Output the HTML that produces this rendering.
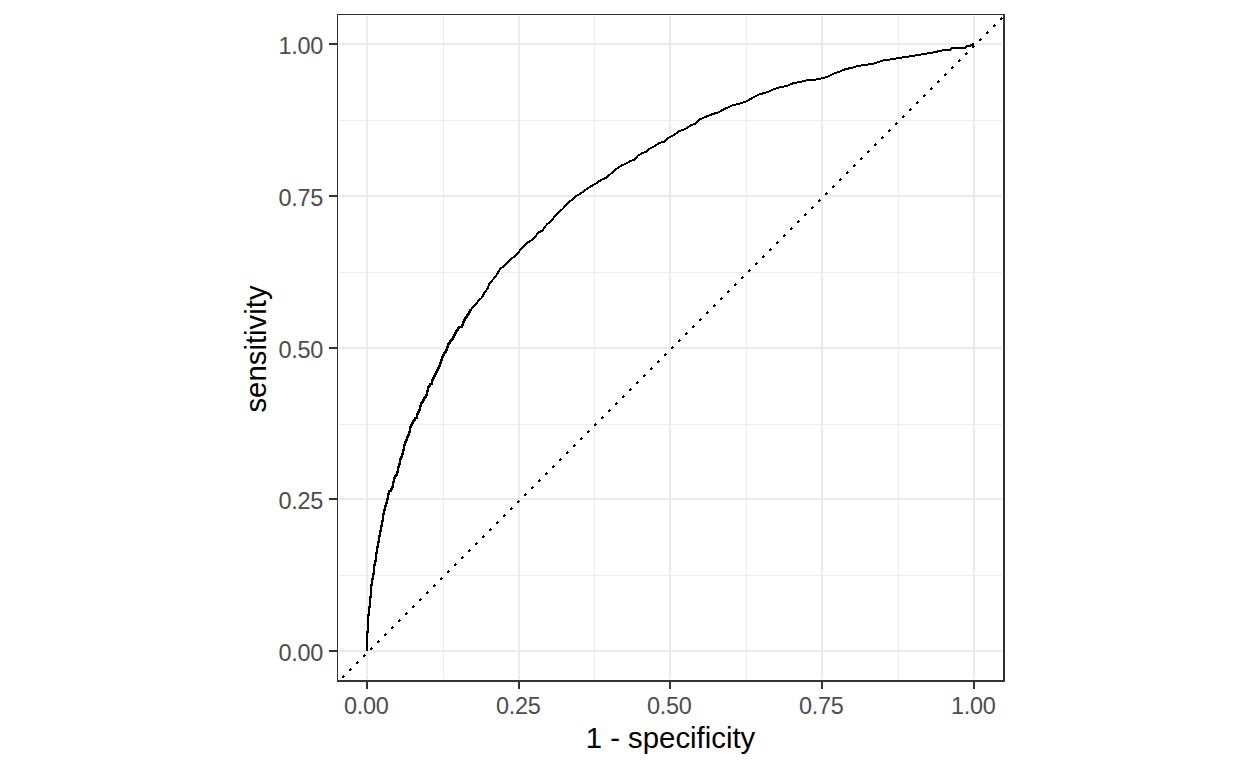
<!DOCTYPE html>
<html><head><meta charset="utf-8"><title>ROC curve</title><style>
html,body{margin:0;padding:0;background:#fff;overflow:hidden;}svg{display:block;}
text{font-family:"Liberation Sans",Arial,sans-serif;}
</style></head><body>
<svg width="1248" height="768" viewBox="0 0 1248 768">
<rect width="1248" height="768" fill="#fff"/>
<g fill="#EBEBEB" shape-rendering="crispEdges"><rect x="443" y="16" width="1" height="663"/><rect x="594" y="16" width="1" height="663"/><rect x="746" y="16" width="1" height="663"/><rect x="898" y="16" width="1" height="663"/><rect x="339" y="120" width="663" height="1"/><rect x="339" y="272" width="663" height="1"/><rect x="339" y="424" width="663" height="1"/><rect x="339" y="575" width="663" height="1"/><rect x="366" y="16" width="2" height="663"/><rect x="518" y="16" width="2" height="663"/><rect x="669" y="16" width="2" height="663"/><rect x="821" y="16" width="2" height="663"/><rect x="973" y="16" width="2" height="663"/><rect x="339" y="43" width="663" height="2"/><rect x="339" y="195" width="663" height="2"/><rect x="339" y="347" width="663" height="2"/><rect x="339" y="498" width="663" height="2"/><rect x="339" y="650" width="663" height="2"/></g>
<path fill="#000" shape-rendering="crispEdges" d="M342 676h2v2h-2zM343 675h1v1h-1zM344 676h1v1h-1zM349 669h2v2h-2zM350 668h1v1h-1zM351 669h1v1h-1zM356 662h2v2h-2zM357 661h1v1h-1zM358 662h1v1h-1zM363 655h2v2h-2zM364 654h1v1h-1zM365 655h1v1h-1zM370 648h2v2h-2zM371 647h1v1h-1zM372 648h1v1h-1zM377 641h2v2h-2zM378 640h1v1h-1zM379 641h1v1h-1zM384 634h2v2h-2zM385 633h1v1h-1zM386 634h1v1h-1zM391 627h2v2h-2zM392 626h1v1h-1zM393 627h1v1h-1zM398 620h2v2h-2zM399 619h1v1h-1zM400 620h1v1h-1zM405 613h2v2h-2zM406 612h1v1h-1zM407 613h1v1h-1zM412 606h2v2h-2zM413 605h1v1h-1zM414 606h1v1h-1zM419 599h2v2h-2zM420 598h1v1h-1zM421 599h1v1h-1zM426 592h2v2h-2zM427 591h1v1h-1zM428 592h1v1h-1zM433 585h2v2h-2zM434 584h1v1h-1zM435 585h1v1h-1zM440 578h2v2h-2zM441 577h1v1h-1zM442 578h1v1h-1zM447 571h2v2h-2zM448 570h1v1h-1zM449 571h1v1h-1zM454 564h2v2h-2zM455 563h1v1h-1zM456 564h1v1h-1zM461 557h2v2h-2zM462 556h1v1h-1zM463 557h1v1h-1zM468 550h2v2h-2zM469 549h1v1h-1zM470 550h1v1h-1zM475 543h2v2h-2zM476 542h1v1h-1zM477 543h1v1h-1zM482 536h2v2h-2zM483 535h1v1h-1zM484 536h1v1h-1zM489 529h2v2h-2zM490 528h1v1h-1zM491 529h1v1h-1zM496 522h2v2h-2zM497 521h1v1h-1zM498 522h1v1h-1zM503 515h2v2h-2zM504 514h1v1h-1zM505 515h1v1h-1zM510 508h2v2h-2zM511 507h1v1h-1zM512 508h1v1h-1zM517 501h2v2h-2zM518 500h1v1h-1zM519 501h1v1h-1zM524 494h2v2h-2zM525 493h1v1h-1zM526 494h1v1h-1zM531 487h2v2h-2zM532 486h1v1h-1zM533 487h1v1h-1zM538 480h2v2h-2zM539 479h1v1h-1zM540 480h1v1h-1zM545 473h2v2h-2zM546 472h1v1h-1zM547 473h1v1h-1zM552 466h2v2h-2zM553 465h1v1h-1zM554 466h1v1h-1zM559 459h2v2h-2zM560 458h1v1h-1zM561 459h1v1h-1zM566 452h2v2h-2zM567 451h1v1h-1zM568 452h1v1h-1zM573 445h2v2h-2zM574 444h1v1h-1zM575 445h1v1h-1zM580 438h2v2h-2zM581 437h1v1h-1zM582 438h1v1h-1zM587 431h2v2h-2zM588 430h1v1h-1zM589 431h1v1h-1zM594 424h2v2h-2zM595 423h1v1h-1zM596 424h1v1h-1zM601 417h2v2h-2zM602 416h1v1h-1zM603 417h1v1h-1zM608 410h2v2h-2zM609 409h1v1h-1zM610 410h1v1h-1zM615 403h2v2h-2zM616 402h1v1h-1zM617 403h1v1h-1zM622 396h2v2h-2zM623 395h1v1h-1zM624 396h1v1h-1zM629 389h2v2h-2zM630 388h1v1h-1zM631 389h1v1h-1zM636 382h2v2h-2zM637 381h1v1h-1zM638 382h1v1h-1zM643 375h2v2h-2zM644 374h1v1h-1zM645 375h1v1h-1zM650 368h2v2h-2zM651 367h1v1h-1zM652 368h1v1h-1zM657 361h2v2h-2zM658 360h1v1h-1zM659 361h1v1h-1zM664 354h2v2h-2zM665 353h1v1h-1zM666 354h1v1h-1zM671 347h2v2h-2zM672 346h1v1h-1zM673 347h1v1h-1zM678 340h2v2h-2zM679 339h1v1h-1zM680 340h1v1h-1zM685 333h2v2h-2zM686 332h1v1h-1zM687 333h1v1h-1zM692 326h2v2h-2zM693 325h1v1h-1zM694 326h1v1h-1zM699 319h2v2h-2zM700 318h1v1h-1zM701 319h1v1h-1zM706 312h2v2h-2zM707 311h1v1h-1zM708 312h1v1h-1zM713 305h2v2h-2zM714 304h1v1h-1zM715 305h1v1h-1zM720 298h2v2h-2zM721 297h1v1h-1zM722 298h1v1h-1zM727 291h2v2h-2zM728 290h1v1h-1zM729 291h1v1h-1zM734 284h2v2h-2zM735 283h1v1h-1zM736 284h1v1h-1zM741 277h2v2h-2zM742 276h1v1h-1zM743 277h1v1h-1zM748 270h2v2h-2zM749 269h1v1h-1zM750 270h1v1h-1zM755 263h2v2h-2zM756 262h1v1h-1zM757 263h1v1h-1zM762 256h2v2h-2zM763 255h1v1h-1zM764 256h1v1h-1zM769 249h2v2h-2zM770 248h1v1h-1zM771 249h1v1h-1zM776 242h2v2h-2zM777 241h1v1h-1zM778 242h1v1h-1zM783 235h2v2h-2zM784 234h1v1h-1zM785 235h1v1h-1zM790 228h2v2h-2zM791 227h1v1h-1zM792 228h1v1h-1zM797 221h2v2h-2zM798 220h1v1h-1zM799 221h1v1h-1zM804 214h2v2h-2zM805 213h1v1h-1zM806 214h1v1h-1zM811 207h2v2h-2zM812 206h1v1h-1zM813 207h1v1h-1zM818 200h2v2h-2zM819 199h1v1h-1zM820 200h1v1h-1zM825 193h2v2h-2zM826 192h1v1h-1zM827 193h1v1h-1zM832 186h2v2h-2zM833 185h1v1h-1zM834 186h1v1h-1zM839 179h2v2h-2zM840 178h1v1h-1zM841 179h1v1h-1zM846 172h2v2h-2zM847 171h1v1h-1zM848 172h1v1h-1zM853 165h2v2h-2zM854 164h1v1h-1zM855 165h1v1h-1zM860 158h2v2h-2zM861 157h1v1h-1zM862 158h1v1h-1zM867 151h2v2h-2zM868 150h1v1h-1zM869 151h1v1h-1zM874 144h2v2h-2zM875 143h1v1h-1zM876 144h1v1h-1zM881 137h2v2h-2zM882 136h1v1h-1zM883 137h1v1h-1zM888 130h2v2h-2zM889 129h1v1h-1zM890 130h1v1h-1zM895 123h2v2h-2zM896 122h1v1h-1zM897 123h1v1h-1zM902 116h2v2h-2zM903 115h1v1h-1zM904 116h1v1h-1zM909 109h2v2h-2zM910 108h1v1h-1zM911 109h1v1h-1zM916 102h2v2h-2zM917 101h1v1h-1zM918 102h1v1h-1zM923 95h2v2h-2zM924 94h1v1h-1zM925 95h1v1h-1zM930 88h2v2h-2zM931 87h1v1h-1zM932 88h1v1h-1zM937 81h2v2h-2zM938 80h1v1h-1zM939 81h1v1h-1zM944 74h2v2h-2zM945 73h1v1h-1zM946 74h1v1h-1zM951 67h2v2h-2zM952 66h1v1h-1zM953 67h1v1h-1zM958 60h2v2h-2zM959 59h1v1h-1zM960 60h1v1h-1zM965 53h2v2h-2zM966 52h1v1h-1zM967 53h1v1h-1zM972 46h2v2h-2zM973 45h1v1h-1zM974 46h1v1h-1zM979 39h2v2h-2zM980 38h1v1h-1zM981 39h1v1h-1zM986 32h2v2h-2zM987 31h1v1h-1zM988 32h1v1h-1zM993 25h2v2h-2zM994 24h1v1h-1zM995 25h1v1h-1zM1000 18h2v2h-2zM1001 17h1v1h-1zM1002 18h1v1h-1z"/>
<polyline fill="none" stroke="#000" stroke-width="2" stroke-linejoin="miter" shape-rendering="crispEdges" points="367,651 367,631.5 368,631.5 368,615.4 369,615.4 369,607.4 370,607.4 370,597.2 371,597.2 371,585.3 372,585.3 372,579 373,579 373,573.6 374,573.6 374,565 375,565 375,560.7 376,560.7 376,553.3 377,553.3 377,546.6 378,546.6 378,542.4 379,542.4 379,536.2 380,536.2 380,531.1 381,531.1 381,526.1 382,526.1 382,521.4 383,521.4 383,514.2 384,514.2 384,510 385,510 385,506.2 386,506.2 386,502.8 387,502.8 387,498.6 388,498.6 388,493.5 389,493.5 389,491.2 391,491.2 391,488.7 392,488.7 392,487 393,487 393,482.4 394,482.4 394,478.25 395,478.25 395,476.2 396,476.2 396,474.5 397,474.5 397,471.6 398,471.6 398,466.6 399,466.6 399,463.7 400,463.7 400,459.2 401,459.2 401,457.3 402,457.3 402,454.2 403,454.2 403,450.4 404,450.4 404,445.4 405,445.4 405,442.3 406,442.3 406,440.2 407,440.2 407,437.3 408,437.3 408,435.2 409,435.2 409,432.3 410,432.3 410,426.75 411,426.75 411,424.7 412,424.7 412,423 413,423 413,421.3 414,421.3 414,419.7 415,419.7 415,418.4 417,418.4 417,414 418,414 418,412.2 419,412.2 419,410.1 420,410.1 420,406.1 421,406.1 421,403.4 422,403.4 422,402.2 423,402.2 423,399.7 424,399.7 424,398.4 425,398.4 425,396.8 426,396.8 426,395.2 427,395.2 427,391 428,391 428,387.4 429,387.4 429,386 430,386 430,383.9 432,383.9 432,380.2 433,380.2 433,378 434,378 434,376 435,376 435,373.9 436,373.9 436,372 437,372 437,370 438,370 438,368 439,368 439,366 440,366 440,363.3 441,363.3 441,360 442,360 442,357 443,357 443,355.2 444,355.2 444,352.9 445,352.9 445,351.5 446,351.5 446,349.6 447,349.6 447,347 448,347 448,344.2 449,344.2 449,343.1 450,343.1 450,341.25 451,341.25 451,340 452,340 452,338.75 453,338.75 453,336.7 454,336.7 454,334.6 455,334.6 455,332.5 456,332.5 456,331 457,331 457,329.6 458,329.6 458,327.9 459,327.9 459,326.5 462,326.5 462,325.4 463,325.4 463,321.7 464,321.7 464,320 465,320 465,318.3 466,318.3 466,316.7 467,316.7 467,315.4 468,315.4 468,313.75 469,313.75 469,312 470,312 470,310.4 471,310.4 471,309.5 474.7,305.6 478.8,300.3 481.7,297.9 484.1,293.3 487.6,288.6 489.3,283.9 492.3,280.4 495.2,276.9 497.5,273.3 499.9,269.2 502.8,266.9 506.3,263.4 510.4,259.3 514.5,256.3 518,252.8 521,249.3 523.9,245.8 527.4,242.6 532.1,239.9 535.6,236.4 538.6,232.3 542.7,230.6 545,226.5 547.9,223.5 550.9,221.2 554.9,216.2 559.1,212.1 563.2,208.4 566.9,203.7 572.1,199.6 576.3,195.9 580.4,193.8 585.6,189.7 590.8,186.5 596,183.4 601.3,179.8 605.4,178.2 611.7,173 615.8,169.35 621,165.7 625.2,164.1 630.4,161 634.6,159.5 637.7,155.8 642.9,152.7 645.8,152.1 649.6,148.8 654.4,146.4 659.2,143 663.6,142 668.8,137.7 673.7,135.3 679.4,131 685.2,129.1 691,125.2 694.8,123.8 698.7,119.9 705.4,117 712.1,114.2 718.8,112.2 724.6,108.9 732.3,105.5 740,103.6 746.7,101.2 753.5,97.3 759.2,94.4 767.5,92.2 773.3,89.35 779,87.4 786.7,86 793.5,83.1 801.2,81.7 806.9,80.2 814.6,79.7 822.3,78.3 828.1,76.4 833.8,73.5 839.6,71.6 845.4,69.2 852.1,67.7 858.8,65.8 866.5,64.8 874.2,63.4 883.4,60.4 891.1,59.4 898.8,58 908.4,56.6 918,55.1 925.7,53.7 935.3,52.2 940.1,50.6 950,50 952,48 965,48 966,47 967,46 970,46 971,45 972,45 973,44 973,43"/>
<g fill="#333333" shape-rendering="crispEdges"><rect x="337" y="14" width="1" height="668"/><rect x="337" y="14" width="668" height="1"/><rect x="1003" y="14" width="2" height="668"/><rect x="337" y="680" width="668" height="2"/></g>
<g fill="#333333" shape-rendering="crispEdges"><rect x="329" y="43" width="8" height="2"/><rect x="329" y="195" width="8" height="2"/><rect x="329" y="347" width="8" height="2"/><rect x="329" y="498" width="8" height="2"/><rect x="329" y="650" width="8" height="2"/><rect x="366" y="682" width="2" height="7"/><rect x="518" y="682" width="2" height="7"/><rect x="669" y="682" width="2" height="7"/><rect x="821" y="682" width="2" height="7"/><rect x="973" y="682" width="2" height="7"/></g>
<text x="323" y="54.3" font-size="23.47" fill="#4D4D4D" letter-spacing="-0.3" text-anchor="end">1.00</text>
<text x="323" y="206.3" font-size="23.47" fill="#4D4D4D" letter-spacing="-0.3" text-anchor="end">0.75</text>
<text x="323" y="358.3" font-size="23.47" fill="#4D4D4D" letter-spacing="-0.3" text-anchor="end">0.50</text>
<text x="323" y="509.3" font-size="23.47" fill="#4D4D4D" letter-spacing="-0.3" text-anchor="end">0.25</text>
<text x="323" y="661.3" font-size="23.47" fill="#4D4D4D" letter-spacing="-0.3" text-anchor="end">0.00</text>
<text x="366.3" y="714" font-size="23.47" fill="#4D4D4D" letter-spacing="-0.3" text-anchor="middle">0.00</text>
<text x="518.3" y="714" font-size="23.47" fill="#4D4D4D" letter-spacing="-0.3" text-anchor="middle">0.25</text>
<text x="669.3" y="714" font-size="23.47" fill="#4D4D4D" letter-spacing="-0.3" text-anchor="middle">0.50</text>
<text x="821.3" y="714" font-size="23.47" fill="#4D4D4D" letter-spacing="-0.3" text-anchor="middle">0.75</text>
<text x="973.3" y="714" font-size="23.47" fill="#4D4D4D" letter-spacing="-0.3" text-anchor="middle">1.00</text>
<text x="670.5" y="748" font-size="29.33" fill="#000" text-anchor="middle">1 - specificity</text>
<text transform="translate(266 349) rotate(-90)" x="0" y="0" font-size="29.33" fill="#000" text-anchor="middle">sensitivity</text>
</svg></body></html>
